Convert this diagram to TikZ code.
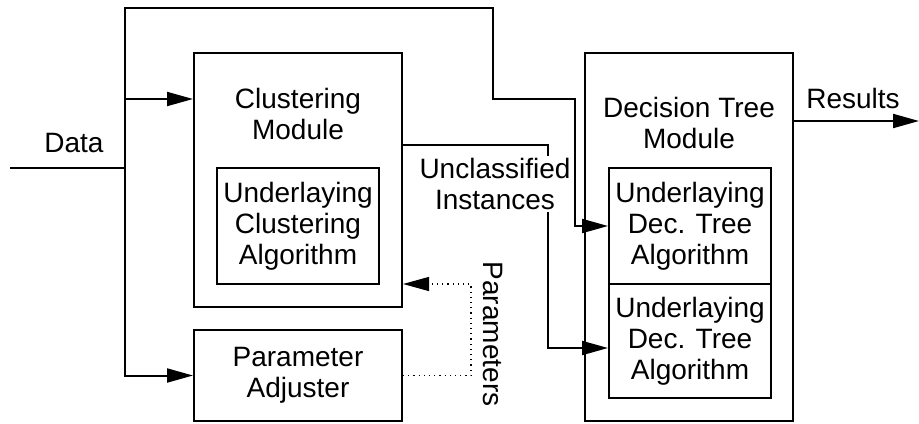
\documentclass[tikz,border=0pt]{standalone}
\usepackage{fontspec}
\setmainfont{Liberation Sans}
\usetikzlibrary{arrows.meta}

\begin{document}
\begin{tikzpicture}[x=0.5pt, y=-0.5pt, line width=1pt,
    every node/.style={font=\fontsize{14}{15.5}\selectfont},
    box/.style={draw, inner sep=0pt, align=center},
    arr/.style={-{Triangle[length=13pt, width=7pt]}}]
  \useasboundingbox (0,0) rectangle (919,423);

  % modules
  \node[box, minimum width=104pt, minimum height=127pt] (clu) at (298,180) {};
  \node[align=center] (clutitle) at (298,114) {Clustering\\Module};
  \node[box, minimum width=81pt, minimum height=58pt] (clualg) at (298,226)
    {Underlaying\\Clustering\\Algorithm};
  \node[box, minimum width=104pt, minimum height=45.5pt] (padj) at (298,375.5)
    {Parameter\\Adjuster};
  \node[box, minimum width=104pt, minimum height=184pt] (dt) at (689,237) {};
  \node[align=center] (dttitle) at (689,123) {Decision Tree\\Module};
  \node[box, minimum width=81pt, minimum height=58pt] (dtalg1) at (690,226)
    {Underlaying\\Dec. Tree\\Algorithm};
  \node[box, minimum width=81pt, minimum height=57pt] (dtalg2) at (690,341)
    {Underlaying\\Dec. Tree\\Algorithm};

  % data flow
  \coordinate (datain) at (10,168);
  \coordinate (fork) at (125,168);
  \coordinate (resout) at (919,121);
  \draw (datain) -- (fork);
  \node (data) at (74,143) {Data};
  \draw[arr] (fork) |- (clu.west |- 0,99);
  \draw[arr] (fork) |- (padj.west);
  \draw[arr] (fork) -- (125,8) -- (493,8) -- (493,99) -- (575,99) |- (dtalg1.west);
  \draw[arr] (clu.east |- 0,145) -- (548,145) |- (dtalg2.west |- 0,348);
  \node[fill=white, inner sep=1pt, align=center] (uncl) at (495,184)
    {Unclassified\\Instances};
  \draw[arr, line width=0.6pt, dotted] (padj.east) -- (471,375.5) |- (clu.east |- 0,284);
  \node[rotate=-90] (params) at (493,334) {Parameters};
  \draw[arr] (dt.east |- resout) -- (resout);
  \node (results) at (853,98) {Results};
\end{tikzpicture}
\end{document}
